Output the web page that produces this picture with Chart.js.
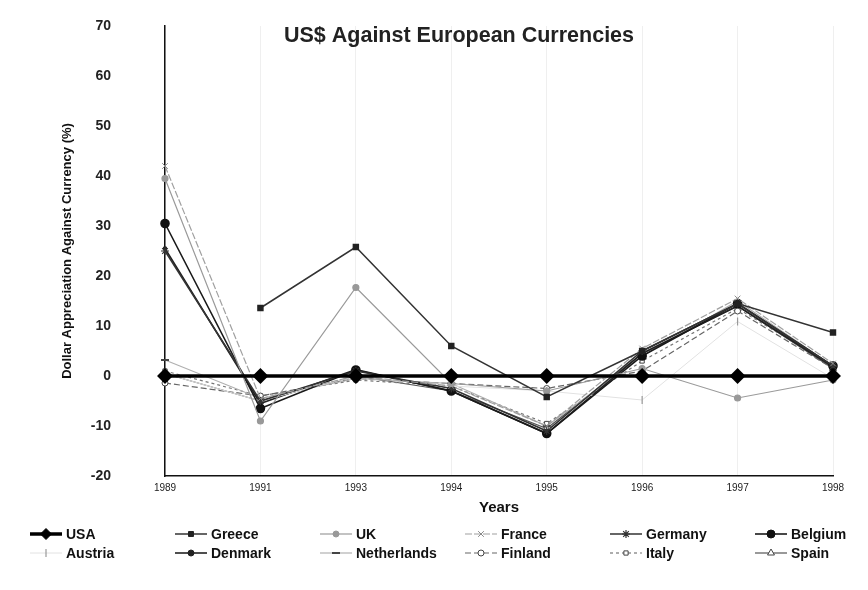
<!DOCTYPE html>
<html>
<head>
<meta charset="utf-8">
<script src="https://cdn.jsdelivr.net/npm/chart.js@4/dist/chart.umd.min.js"></script>
<style>
  html, body { margin: 0; padding: 0; background: #fff; }
  #wrap { width: 868px; height: 590px; position: relative; }
</style>
</head>
<body>
<div id="wrap"><canvas id="chart" width="868" height="590"></canvas></div>
<script>
// categories (years as written on the axis)
const years = ['1989', '1991', '1993', '1994', '1995', '1996', '1997', '1998'];

// dollar appreciation against each currency (%)
const usa         = [0, 0, 0, 0, 0, 0, 0, 0];
const greece      = [null, 13.6, 25.8, 6, -4.2, 5, 14.5, 8.7];
const uk          = [39.5, -9, 17.7, -1.5, -3, 1.5, -4.4, -0.8];
const france      = [42, -4.5, 0, -2, -10, 5.5, 15.5, 2.5];
const germany     = [25, -5, 1, -2.5, -11, 5, 14.5, 2];
const belgium     = [30.5, -6.5, 1.2, -3, -11.5, 4, 14.5, 2];
const austria     = [0.5, -5, 0, -2, -3, -4.8, 10.9, -0.5];
const denmark     = [25.5, -5.5, 1.3, -3, -11.5, 4.5, 14, 1.8];
const netherlands = [3.2, -4.5, -0.5, -1.5, -10, 4, 15, 2];
const finland     = [-1.4, -4, -0.5, -1.5, -2.5, 1, 13, 1.5];
const italy       = [1, -4, -0.8, -2, -9.5, 3, 13.5, 2];
const spain       = [0.5, -5, 0, -3, -10.5, 4.5, 14, 1.5];

const FONT = "'Liberation Sans', Arial, sans-serif";

const mk = (label, data, st) => Object.assign({
    label: label,
    data: data,
    fill: false,
    tension: 0,
    spanGaps: false
}, st);

const datasets = [
    mk('USA', usa, { borderColor: '#000', borderWidth: 3.5, pointStyle: 'rectRot', pointRadius: 5.5, pointBackgroundColor: '#000', pointBorderColor: '#000', order: 0 }),
    mk('Greece', greece, { borderColor: '#333', borderWidth: 1.5, pointStyle: 'rect', pointRadius: 3.5, pointBackgroundColor: '#222', pointBorderColor: '#222' }),
    mk('UK', uk, { borderColor: '#9a9a9a', borderWidth: 1.2, pointStyle: 'circle', pointRadius: 3, pointBackgroundColor: '#999', pointBorderColor: '#999' }),
    mk('France', france, { borderColor: '#a0a0a0', borderWidth: 1.2, borderDash: [7, 2], pointStyle: 'crossRot', pointRadius: 4, pointBorderColor: '#888', pointBorderWidth: 1 }),
    mk('Germany', germany, { borderColor: '#333', borderWidth: 1.5, pointStyle: 'star', pointRadius: 4, pointBorderColor: '#333', pointBorderWidth: 1.2 }),
    mk('Belgium', belgium, { borderColor: '#1a1a1a', borderWidth: 1.6, pointStyle: 'circle', pointRadius: 4, pointBackgroundColor: '#111', pointBorderColor: '#111' }),
    mk('Austria', austria, { borderColor: '#e2e2e2', borderWidth: 1, pointStyle: 'line', rotation: 90, pointRadius: 4, pointBorderColor: '#999', pointBorderWidth: 1.2 }),
    mk('Denmark', denmark, { borderColor: '#222', borderWidth: 1.6, pointStyle: 'circle', pointRadius: 1.5, pointBackgroundColor: '#222', pointBorderColor: '#222' }),
    mk('Netherlands', netherlands, { borderColor: '#b0b0b0', borderWidth: 1.2, pointStyle: 'line', pointRadius: 4, pointBorderColor: '#444', pointBorderWidth: 2 }),
    mk('Finland', finland, { borderColor: '#666', borderWidth: 1.2, borderDash: [6, 3], pointStyle: 'circle', pointRadius: 3, pointBackgroundColor: '#fff', pointBorderColor: '#444', pointBorderWidth: 1 }),
    mk('Italy', italy, { borderColor: '#777', borderWidth: 1.2, borderDash: [3, 3], pointStyle: 'rect', pointRadius: 3, pointBackgroundColor: '#fff', pointBorderColor: '#444', pointBorderWidth: 1 }),
    mk('Spain', spain, { borderColor: '#555', borderWidth: 1.2, pointStyle: 'triangle', pointRadius: 4, pointBackgroundColor: '#fff', pointBorderColor: '#444', pointBorderWidth: 1 })
];

// title drawn inside the plot area, like the original
const titlePlugin = {
    id: 'insideTitle',
    afterDraw(chart) {
        const ctx = chart.ctx;
        ctx.save();
        ctx.font = "bold 21.5px " + FONT;
        ctx.fillStyle = '#222';
        ctx.textAlign = 'center';
        ctx.textBaseline = 'middle';
        ctx.fillText('US$ Against European Currencies', 459, 36);
        ctx.restore();
    }
};

// legend in a fixed 6-column grid under the axis
const gridLegend = {
    id: 'gridLegend',
    afterDraw(chart) {
        const ctx = chart.ctx;
        chart.data.datasets.forEach((ds, i) => {
            const col = i % 6, row = Math.floor(i / 6);
            const tx = 66 + col * 145;
            const ty = 534 + row * 19;
            const x0 = tx - 36, x1 = tx - 4;
            ctx.save();
            ctx.strokeStyle = ds.borderColor;
            ctx.lineWidth = ds.borderWidth;
            ctx.setLineDash(ds.borderDash || []);
            ctx.beginPath();
            ctx.moveTo(x0, ty);
            ctx.lineTo(x1, ty);
            ctx.stroke();
            ctx.setLineDash([]);
            ctx.fillStyle = ds.pointBackgroundColor || '#000';
            ctx.strokeStyle = ds.pointBorderColor || '#000';
            ctx.lineWidth = ds.pointBorderWidth || 1;
            Chart.helpers.drawPoint(ctx, {
                pointStyle: ds.pointStyle,
                rotation: ds.rotation || 0,
                radius: Math.max(ds.pointRadius, 3),
                borderWidth: ds.pointBorderWidth || 1
            }, (x0 + x1) / 2, ty);
            ctx.font = "bold 14px " + FONT;
            ctx.fillStyle = '#111';
            ctx.textAlign = 'left';
            ctx.textBaseline = 'middle';
            ctx.fillText(ds.label, tx, ty + 1);
            ctx.restore();
        });
    }
};

new Chart(document.getElementById('chart'), {
    type: 'line',
    data: { labels: years, datasets: datasets },
    options: {
        responsive: false,
        animation: false,
        layout: { padding: { top: 26, right: 35, left: 0, bottom: 0 } },
        plugins: {
            legend: { display: false },
            title: { display: false },
            tooltip: { enabled: false }
        },
        scales: {
            x: {
                offset: false,
                afterFit: (scale) => { scale.height = 114; },
                grid: { display: true, color: '#efefef', lineWidth: 1, drawTicks: false },
                border: { display: true, color: '#111', width: 1.5 },
                ticks: { color: '#222', font: { size: 10, family: FONT }, padding: 6, maxRotation: 0 },
                title: { display: true, text: 'Years', color: '#111', font: { size: 15, weight: 'bold', family: FONT }, padding: { top: 0, bottom: 73 } }
            },
            y: {
                min: -20,
                max: 70,
                afterFit: (scale) => {
                    scale.width = 165;
                    scale.paddingTop = 0;
                    scale.paddingBottom = 0;
                },
                grid: { display: false, drawTicks: false },
                border: { display: true, color: '#111', width: 1.5 },
                ticks: { stepSize: 10, color: '#222', font: { size: 14, weight: 'bold', family: FONT }, padding: 54 },
                title: { display: true, text: 'Dollar Appreciation Against Currency (%)', color: '#111', font: { size: 13, weight: 'bold', family: FONT }, padding: { top: 60, bottom: 0 } }
            }
        }
    },
    plugins: [titlePlugin, gridLegend]
});
</script>
</body>
</html>
